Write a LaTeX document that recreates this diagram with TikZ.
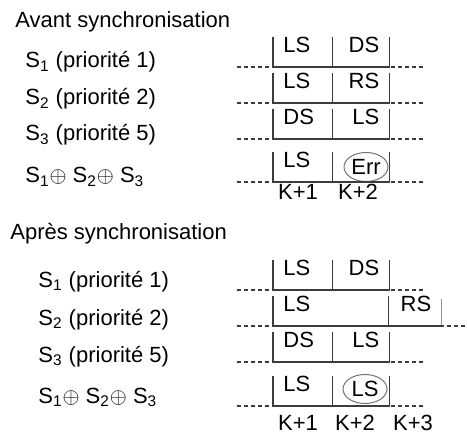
\documentclass[tikz,border=0pt]{standalone}
\usepackage{fontspec}
\setmainfont{Liberation Sans}
\usepackage{amsmath, amssymb}
\usepackage{tikz}
\usetikzlibrary{shapes,positioning}

\begin{document}
\begin{tikzpicture}[x=0.5bp,y=-0.5bp,font=\fontsize{11bp}{13bp}\selectfont]
		
		\definecolor{linegray}{RGB}{60,60,60}
		\definecolor{ovalgray}{RGB}{115,115,115}
		\definecolor{palegray}{RGB}{150,150,150}
		
		\useasboundingbox (0,0) rectangle (467,434);
		
		\tikzstyle{edge} = [draw,-,linegray,line width=0.55bp]
		\tikzstyle{stub} = [draw,-,linegray,line width=0.55bp,dash pattern=on 2bp off 1.5bp]
		
		\tikzset{rowname/.style = {anchor=base west,inner sep=0}}
		\tikzset{klabel/.style = {inner sep=0}}
		\tikzset{cell/.style = {anchor=south west,inner ysep=0,inner xsep=5bp,text height=7.5bp,text depth=7bp}}
		\tikzset{cella/.style = {cell,align=left,text width=19.5bp}}
		\tikzset{cellb/.style = {cell,align=right,text width=18bp}}
		\tikzset{oval/.style = {shape=ellipse,draw=ovalgray,line width=0.5bp,inner sep=0,minimum width=22bp,minimum height=14.5bp}}
		
		% avant synchronisation
		\node[rowname] (avant) at (15,28) {Avant synchronisation};
		\node[rowname] (s1a) at (25,68) {S\textsubscript{1} (priorité 1)};
		\node[rowname] (s2a) at (25,105) {S\textsubscript{2} (priorité 2)};
		\node[rowname] (s3a) at (25,141) {S\textsubscript{3} (priorité 5)};
		\node[rowname] (suma) at (25,183) {S\textsubscript{1}$\oplus$ S\textsubscript{2}$\oplus$ S\textsubscript{3}};
		
		\coordinate (av1w) at (237,67);
		\coordinate (av1e) at (425,67);
		\coordinate (av2w) at (237,103);
		\coordinate (av2e) at (425,103);
		\coordinate (av3w) at (237,139);
		\coordinate (av3e) at (425,139);
		\coordinate (av4w) at (237,182);
		\coordinate (av4e) at (425,182);
		
		\node[cella] (av11) at (273,67) {LS};
		\node[cellb, right=0pt of av11] (av12) {DS};
		\node[cella] (av21) at (273,103) {LS};
		\node[cellb, right=0pt of av21] (av22) {RS};
		\node[cella] (av31) at (273,139) {DS};
		\node[cellb, right=0pt of av31] (av32) {LS};
		\node[cella] (av41) at (273,182) {LS};
		\node[cellb, right=0pt of av41] (av42) {};
		\node[oval] (err) at (366,167) {Err};
		
		\node[klabel] (k1a) at (298,192) {K+1};
		\node[klabel] (k2a) at (358,192) {K+2};
		
		\draw[stub] (av1w) -- (av1e);
		\draw[stub] (av2w) -- (av2e);
		\draw[stub] (av3w) -- (av3e);
		\draw[stub] (av4w) -- (av4e);
		\draw[edge] (av11.north west) -- (av11.south west) -- (av12.south east) -- (av12.north east);
		\draw[edge] (av12.north west) -- (av12.south west);
		\draw[edge] (av21.north west) -- (av21.south west) -- (av22.south east) -- (av22.north east);
		\draw[edge] (av22.north west) -- (av22.south west);
		\draw[edge] (av31.north west) -- (av31.south west) -- (av32.south east) -- (av32.north east);
		\draw[edge] (av32.north west) -- (av32.south west);
		\draw[edge] (av41.north west) -- (av41.south west) -- (av42.south east) -- (av42.north east);
		\draw[edge] (av42.north west) -- (av42.south west);
		
		% apres synchronisation
		\node[rowname] (apres) at (10,240) {Après synchronisation};
		\node[rowname] (s1b) at (38,287) {S\textsubscript{1} (priorité 1)};
		\node[rowname] (s2b) at (38,325) {S\textsubscript{2} (priorité 2)};
		\node[rowname] (s3b) at (38,362) {S\textsubscript{3} (priorité 5)};
		\node[rowname] (sumb) at (38,403) {S\textsubscript{1}$\oplus$ S\textsubscript{2}$\oplus$ S\textsubscript{3}};
		
		\coordinate (ap1w) at (237,290);
		\coordinate (ap1e) at (426,290);
		\coordinate (ap2w) at (237,326);
		\coordinate (ap2e) at (467,326);
		\coordinate (ap3w) at (237,362);
		\coordinate (ap3e) at (426,362);
		\coordinate (ap4w) at (237,406);
		\coordinate (ap4e) at (426,406);
		
		\node[cella] (ap11) at (273,290) {LS};
		\node[cellb, right=0pt of ap11] (ap12) {DS};
		\node[cella, text width=47.5bp] (ap21) at (273,326) {LS};
		\node[cellb, text width=16bp, right=0pt of ap21] (ap22) {RS};
		\node[cella] (ap31) at (273,362) {DS};
		\node[cellb, right=0pt of ap31] (ap32) {LS};
		\node[cella] (ap41) at (273,406) {LS};
		\node[cellb, right=0pt of ap41] (ap42) {};
		\node[oval] (lsov) at (365,389) {LS};
		
		\node[klabel] (k1b) at (298,423) {K+1};
		\node[klabel] (k2b) at (355,423) {K+2};
		\node[klabel] (k3b) at (413,423) {K+3};
		
		\draw[stub] (ap1w) -- (ap1e);
		\draw[stub] (ap2w) -- (ap2e);
		\draw[stub] (ap3w) -- (ap3e);
		\draw[stub] (ap4w) -- (ap4e);
		\draw[edge] (ap11.north west) -- (ap11.south west) -- (ap12.south east) -- (ap12.north east);
		\draw[edge] (ap12.north west) -- (ap12.south west);
		\draw[edge] (ap21.north west) -- (ap21.south west) -- (ap22.south east);
		\draw[edge] (ap22.north west) -- (ap22.south west);
		\draw[edge, palegray] ([yshift=-1.5bp]ap22.north east) -- ([yshift=0.5bp]ap22.south east);
		\draw[edge] (ap31.north west) -- (ap31.south west) -- (ap32.south east) -- (ap32.north east);
		\draw[edge] (ap32.north west) -- (ap32.south west);
		\draw[edge] (ap41.north west) -- (ap41.south west) -- (ap42.south east) -- (ap42.north east);
		\draw[edge] (ap42.north west) -- (ap42.south west);
		\end{tikzpicture}
\end{document}
